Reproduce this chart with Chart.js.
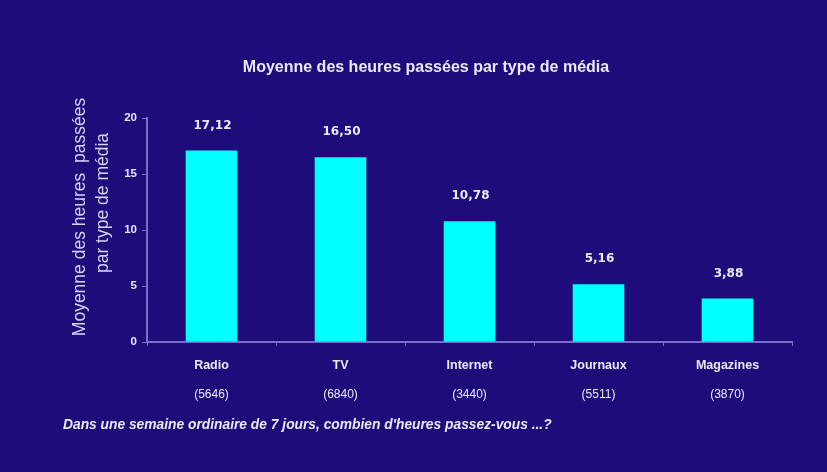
<!DOCTYPE html>
<html>
<head>
<meta charset="utf-8">
<script src="https://cdn.jsdelivr.net/npm/chart.js@4"></script>
<style>
  html, body { margin: 0; padding: 0; background: #1d0c79; }
  #wrap { width: 827px; height: 472px; }
</style>
</head>
<body>
<div id="wrap"><canvas id="mediaChart" width="827" height="472"></canvas></div>
<script>
// Données
const categories = ["Radio", "TV", "Internet", "Journaux", "Magazines"];
const hours = [17.12, 16.50, 10.78, 5.16, 3.88];
const respondents = ["(5646)", "(6840)", "(3440)", "(5511)", "(3870)"];
const yTicks = [0, 5, 10, 15, 20];

const textColor = "#ece8ff";
const axisColor = "#7a6cc8";
const fontFamily = "'Liberation Sans', Arial, sans-serif";
const yTitle = ["Moyenne des heures  passées", "par type de média"];
const footnote = "Dans une semaine ordinaire de 7 jours, combien d'heures passez-vous ...?";

const fmt = v => v.toFixed(2).replace(".", ",");

// valeurs au-dessus des barres, effectifs, titre vertical et note de bas
const extraText = {
  id: "extraText",
  afterDatasetsDraw(chart) {
    const ctx = chart.ctx;
    const meta = chart.getDatasetMeta(0);
    const xScale = chart.scales.x;
    ctx.save();
    ctx.fillStyle = textColor;
    ctx.textAlign = "center";
    ctx.textBaseline = "middle";
    ctx.font = "bold 12px 'DejaVu Sans', sans-serif";
    meta.data.forEach((bar, i) => {
      ctx.fillText(fmt(hours[i]), bar.x + 1, bar.y - 25);
    });
    ctx.font = "12px " + fontFamily;
    respondents.forEach((r, i) => {
      ctx.fillText(r, xScale.getPixelForValue(i), 395);
    });
    ctx.textAlign = "left";
    ctx.font = "italic bold 13.8px " + fontFamily;
    ctx.fillText(footnote, 63, 425);

    // titre de l'axe vertical
    ctx.fillStyle = "#d8d2f8";
    ctx.font = "17.5px " + fontFamily;
    ctx.textAlign = "center";
    ctx.translate(80, 217);
    ctx.rotate(-Math.PI / 2);
    ctx.fillText(yTitle[0], 0, 0);
    ctx.fillText(yTitle[1], 14, 23);
    ctx.restore();
  }
};

new Chart(document.getElementById("mediaChart"), {
  type: "bar",
  data: {
    labels: categories,
    datasets: [{
      data: hours,
      backgroundColor: "#00ffff",
      barPercentage: 0.4,
      categoryPercentage: 1
    }]
  },
  options: {
    responsive: false,
    animation: false,
    layout: { padding: { left: 60, right: 35, top: 58, bottom: 100 } },
    plugins: {
      legend: { display: false },
      tooltip: { enabled: false },
      title: {
        display: true,
        text: "Moyenne des heures passées par type de média",
        color: textColor,
        font: { family: fontFamily, size: 16, weight: "bold" },
        padding: { top: 0, bottom: 41 }
      }
    },
    scales: {
      x: {
        grid: { display: true, drawOnChartArea: false, tickLength: 4, color: axisColor },
        border: { color: axisColor, width: 2 },
        ticks: { color: textColor, padding: 12, font: { family: fontFamily, size: 12.5, weight: "bold" } },
        afterFit: s => { s.height = 30; }
      },
      y: {
        min: 0,
        max: 20,
        afterBuildTicks: s => { s.ticks = yTicks.map(v => ({ value: v })); },
        grid: { display: true, drawOnChartArea: false, tickLength: 5, color: axisColor },
        border: { color: axisColor, width: 2 },
        ticks: { color: textColor, padding: 5, font: { family: fontFamily, size: 11.5, weight: "bold" } },
        afterFit: s => { s.width = 87; }
      }
    }
  },
  plugins: [extraText]
});
</script>
</body>
</html>
